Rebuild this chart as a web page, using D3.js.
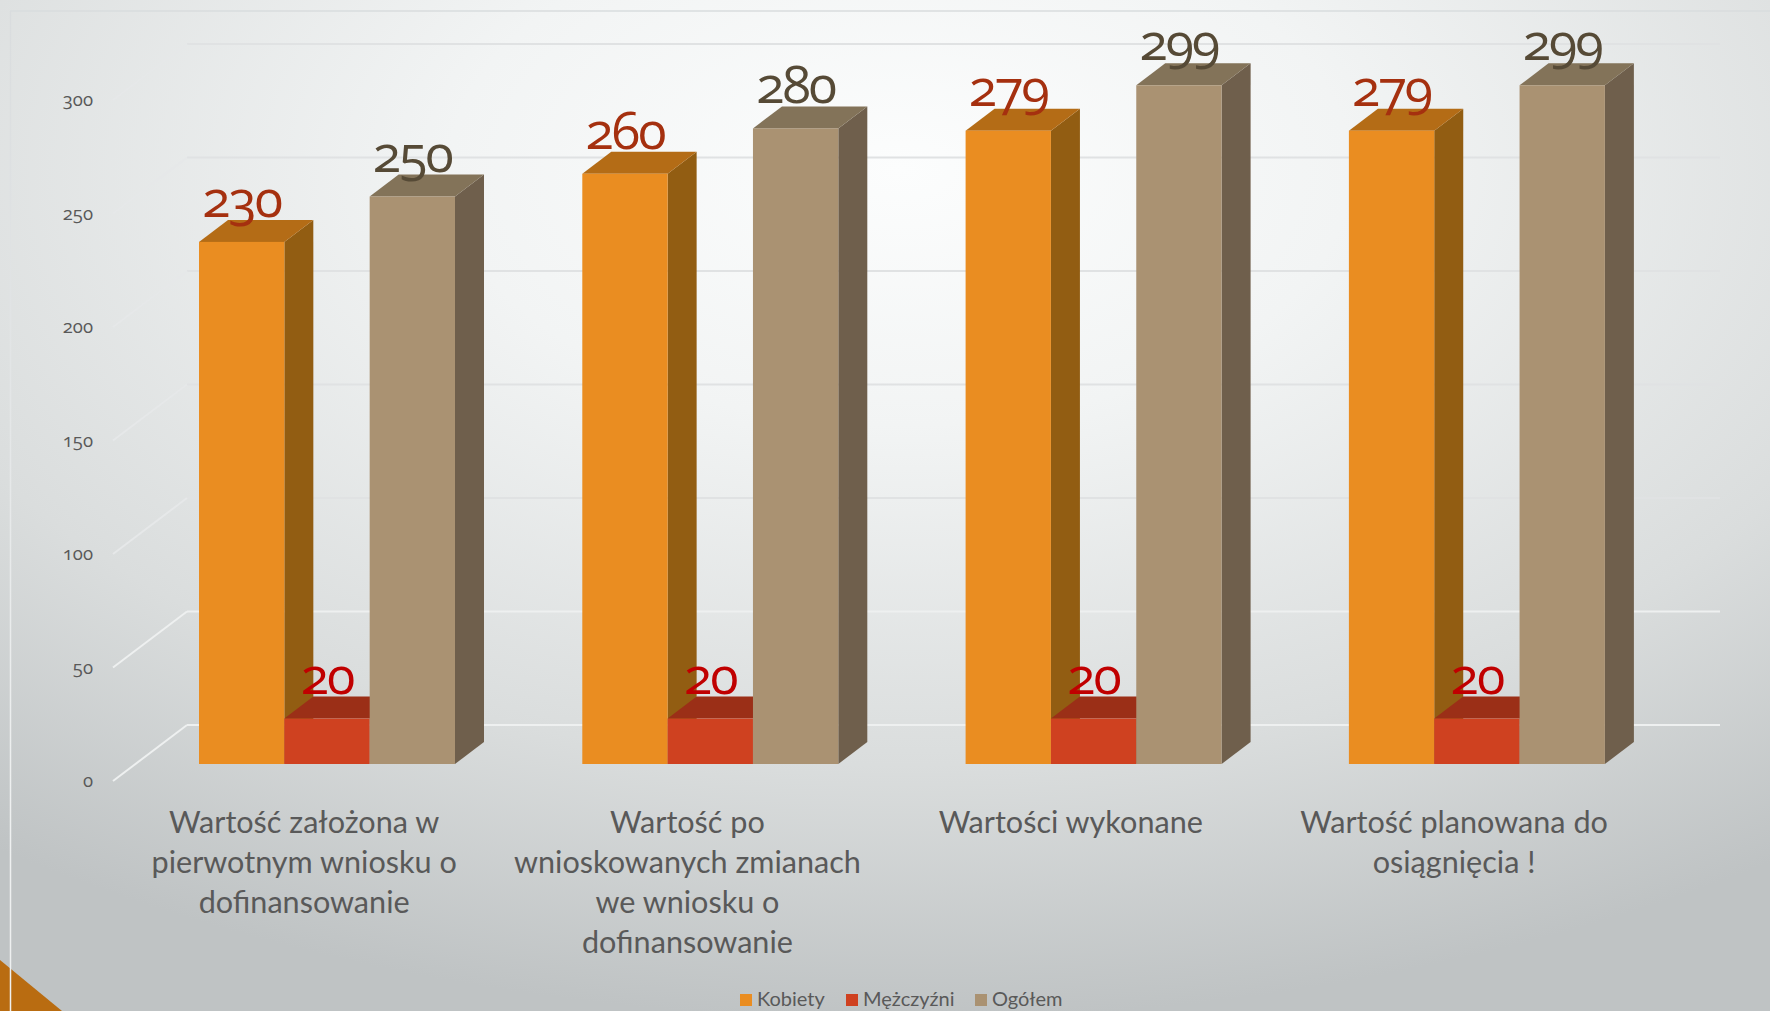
<!DOCTYPE html>
<html>
<head>
<meta charset="utf-8">
<script src="https://cdn.jsdelivr.net/npm/d3@7"></script>
<style>
  html, body { margin: 0; padding: 0; background: #d0d3d4; overflow: hidden; }
  svg { display: block; }
  text { font-family: Lato, "Open Sans", sans-serif; }
  .num, .num text { font-family: "Open Sans", sans-serif; font-variant-numeric: oldstyle-nums; font-feature-settings: "onum"; }
</style>
</head>
<body>
<svg id="chart" width="1770" height="1011"></svg>
<script>
const categories = [
  'Wartość założona w\npierwotnym wniosku o\ndofinansowanie',
  'Wartość po\nwnioskowanych zmianach\nwe wniosku o\ndofinansowanie',
  'Wartości wykonane',
  'Wartość planowana do\nosiągnięcia !'
]
const seriesNames = ['Kobiety', 'Mężczyźni', 'Ogółem']
const kobiety = [230, 260, 279, 279]
const mezczyzni = [20, 20, 20, 20]
const ogolem = [250, 280, 299, 299]
const yTicks = [0, 50, 100, 150, 200, 250, 300]

const seriesValues = [kobiety, mezczyzni, ogolem]
const front = ['#ea8d21', '#cf4120', '#aa9272']
const side = ['#925d12', '#7f2c14', '#6f5f4c']
const top_ = ['#b46c16', '#9b2f17', '#837359']
const labelColor = ['#a5300f', '#c00000', '#564a36']

const svg = d3.select('#chart')

// background
const defs = svg.append('defs')
const glow = defs.append('radialGradient')
  .attr('id', 'glow')
  .attr('gradientUnits', 'userSpaceOnUse')
  .attr('cx', 0).attr('cy', 0).attr('r', 1)
  .attr('gradientTransform', 'translate(900,170) scale(1500,850)')
glow.append('stop').attr('offset', 0).attr('stop-color', '#fcfdfd')
glow.append('stop').attr('offset', 0.3).attr('stop-color', '#f2f4f4')
glow.append('stop').attr('offset', 0.7).attr('stop-color', '#dadddd')
glow.append('stop').attr('offset', 1).attr('stop-color', '#bfc3c4')

const edge = defs.append('linearGradient')
  .attr('id', 'edge')
  .attr('gradientUnits', 'userSpaceOnUse')
  .attr('x1', 0).attr('x2', 0).attr('y1', 11).attr('y2', 800)
edge.append('stop').attr('offset', 0).attr('stop-color', '#d9dcde')
edge.append('stop').attr('offset', 1).attr('stop-color', '#eef0f0')

svg.append('rect').attr('width', 1770).attr('height', 1011).attr('fill', 'url(#glow)')

svg.append('path')
  .attr('d', 'M0,960L62,1011L0,1011Z')
  .attr('fill', '#b96c11')

svg.append('line')
  .attr('x1', 10).attr('x2', 1770).attr('y1', 11).attr('y2', 11)
  .attr('stroke', '#d9dcde')
  .attr('stroke-width', 1.5)
svg.append('rect')
  .attr('x', 9.75).attr('y', 11).attr('width', 1.5).attr('height', 1000)
  .attr('fill', 'url(#edge)')

// depth of the floor and of the bars
const wallX = 187
const wallRight = 1720
const floorDx = 74
const floorDy = 56
const barDx = 29
const barDy = 22
const barFrontDy = 39

const yscale = d3.scaleLinear()
  .domain([0, 300])
  .range([725, 44])

const xscale = d3.scaleBand()
  .domain(categories)
  .range([112.5, 1645.7])

const inner = d3.scaleBand()
  .domain(seriesNames)
  .range([86.5, 342.5])

// walls
const grid = svg.append('g')
grid.selectAll('line.back')
  .data(yTicks)
  .enter()
  .append('line')
  .attr('class', 'back')
  .attr('x1', wallX)
  .attr('x2', wallRight)
  .attr('y1', (d) => yscale(d))
  .attr('y2', (d) => yscale(d))
  .attr('stroke', (d) => d < 60 ? '#eef0f0' : '#e0e2e3')
  .attr('stroke-width', 2)
grid.selectAll('line.diag')
  .data(yTicks)
  .enter()
  .append('line')
  .attr('class', 'diag')
  .attr('x1', wallX - floorDx)
  .attr('x2', wallX)
  .attr('y1', (d) => yscale(d) + floorDy)
  .attr('y2', (d) => yscale(d))
  .attr('stroke', (d) => d < 60 ? '#eef0f0' : '#e6e8e9')
  .attr('stroke-width', 2)

// left axis, drawn at the front edge of the side wall
const yAxis = d3.axisLeft(yscale).tickValues(yTicks).tickSize(0).tickPadding(0)
svg.append('g')
  .attr('class', 'num')
  .attr('transform', `translate(93, ${floorDy})`)
  .call(yAxis)
  .call((g) => g.select('.domain').remove())
  .selectAll('text')
  .attr('font-size', 18.5)
  .attr('fill', '#595959')

// bottom axis with wrapped labels
const xAxis = d3.axisBottom(xscale).tickSize(0).tickFormat('')
const xg = svg.append('g')
  .call(xAxis)
xg.select('.domain').remove()
xg.selectAll('.tick text').remove()
xg.selectAll('.tick')
  .append('text')
  .attr('text-anchor', 'middle')
  .attr('font-size', 30.6)
  .attr('fill', '#595959')
  .selectAll('tspan')
  .data((d) => d.split('\n'))
  .enter()
  .append('tspan')
  .attr('x', 0)
  .attr('y', (d, i) => 833 + i * 40)
  .text((d) => d)

// bars
const bars = svg.append('g')
seriesNames.forEach((name, s) => {
  const g = bars.append('g')
  categories.forEach((cat, c) => {
    const value = seriesValues[s][c]
    const x0 = xscale(cat) + inner(name)
    const x1 = x0 + inner.bandwidth()
    const y0 = yscale(value) + barFrontDy
    const y1 = yscale(0) + barFrontDy
    g.append('path')
      .attr('d', d3.line()([[x1, y0], [x1 + barDx, y0 - barDy], [x1 + barDx, y1 - barDy], [x1, y1]]) + 'Z')
      .attr('fill', side[s])
    g.append('path')
      .attr('d', d3.line()([[x0, y0], [x0 + barDx, y0 - barDy], [x1 + barDx, y0 - barDy], [x1, y0]]) + 'Z')
      .attr('fill', top_[s])
    g.append('rect')
      .attr('x', x0)
      .attr('y', y0)
      .attr('width', inner.bandwidth())
      .attr('height', y1 - y0)
      .attr('fill', front[s])
  })
})

// data labels go over every bar
seriesNames.forEach((name, s) => {
  svg.append('g')
    .attr('class', 'num')
    .selectAll('text')
    .data(categories)
    .enter()
    .append('text')
    .text((d, i) => seriesValues[s][i])
    .attr('x', (d) => xscale(d) + inner(name) + inner.bandwidth() / 2)
    .attr('y', (d, i) => yscale(seriesValues[s][i]) + barFrontDy - 25)
    .attr('text-anchor', 'middle')
    .attr('font-size', 52)
    .attr('letter-spacing', -2)
    .attr('fill', labelColor[s])
})

// legend
const legendX = d3.scaleOrdinal().domain(seriesNames).range([740, 846, 975])
const legend = svg.append('g')
  .selectAll('g')
  .data(seriesNames)
  .enter()
  .append('g')
  .attr('transform', (d) => `translate(${legendX(d)}, 994)`)
legend.append('rect')
  .attr('width', 12)
  .attr('height', 12)
  .attr('fill', (d, i) => front[i])
legend.append('text')
  .text((d) => d)
  .attr('x', 17)
  .attr('y', 12)
  .attr('font-size', 20)
  .attr('fill', '#595959')
</script>
</body>
</html>
